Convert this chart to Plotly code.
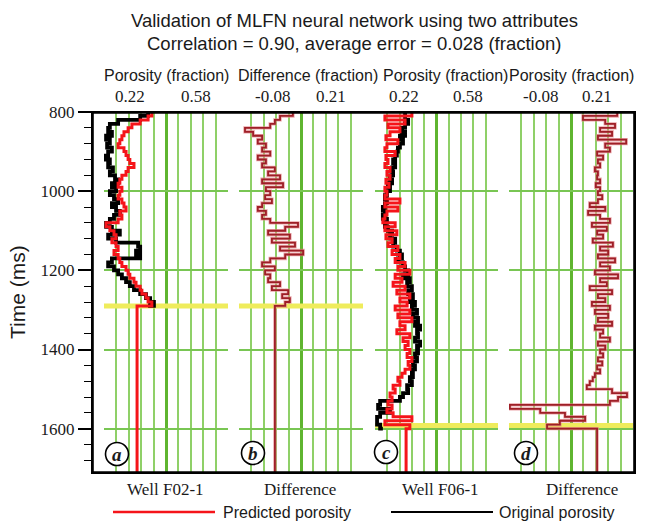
import numpy as np
import plotly.graph_objects as go

# ---------------------------------------------------------------- data
# two-way time samples (ms)
TIME_F02 = list(range(800, 1300, 10))      # 800 .. 1290
TIME_F06 = list(range(800, 1610, 10))      # 800 .. 1600
TIME_BOTTOM = 1712                          # bottom of the display window

# Well F02-1 porosity (fraction)
PHI_F02_ORIGINAL = [
    0.348, 0.325, 0.261, 0.237, 0.232, 0.243, 0.226, 0.237, 0.229, 0.243,
    0.232, 0.223, 0.237, 0.232, 0.246, 0.237, 0.252, 0.261, 0.243, 0.255,
    0.237, 0.249, 0.261, 0.243, 0.255, 0.266, 0.249, 0.237, 0.226, 0.243,
    0.266, 0.232, 0.255, 0.319, 0.325, 0.313, 0.325, 0.243, 0.232, 0.249,
    0.261, 0.272, 0.284, 0.295, 0.307, 0.325, 0.342, 0.354, 0.365, 0.348,
]
PHI_F02_PREDICTED = [
    0.359, 0.348, 0.325, 0.301, 0.290, 0.278, 0.272, 0.266, 0.261, 0.278,
    0.284, 0.290, 0.295, 0.307, 0.290, 0.284, 0.272, 0.266, 0.261, 0.272,
    0.266, 0.261, 0.272, 0.278, 0.284, 0.266, 0.272, 0.261, 0.226, 0.237,
    0.249, 0.255, 0.243, 0.255, 0.261, 0.249, 0.261, 0.266, 0.272, 0.284,
    0.290, 0.295, 0.307, 0.313, 0.325, 0.330, 0.342, 0.348, 0.359, 0.316,
    0.316,
]
DIFF_F02 = [
    0.046, 0.016, 0.004, -0.007, -0.066, -0.047, -0.026, -0.036, -0.017, -0.026,
    -0.007, -0.036, -0.017, -0.026, 0.004, -0.012, 0.016, -0.026, 0.023, -0.017,
    -0.007, -0.019, -0.003, -0.026, -0.036, -0.017, -0.026, -0.007, 0.058, 0.028,
    -0.012, 0.039, -0.003, 0.051, 0.016, 0.070, 0.028, -0.007, -0.026, 0.004,
    -0.019, -0.007, -0.012, 0.016, -0.003, 0.035, 0.021, 0.039, 0.028, 0.004,
    0.004,
]

# Well F06-1 porosity (fraction)
PHI_F06_ORIGINAL = [
    0.308, 0.308, 0.317, 0.308, 0.299, 0.308, 0.293, 0.302, 0.293, 0.287,
    0.284, 0.279, 0.273, 0.279, 0.270, 0.273, 0.264, 0.270, 0.258, 0.264,
    0.255, 0.249, 0.255, 0.249, 0.243, 0.249, 0.243, 0.255, 0.249, 0.258,
    0.270, 0.264, 0.279, 0.273, 0.284, 0.293, 0.299, 0.287, 0.302, 0.308,
    0.317, 0.302, 0.322, 0.314, 0.328, 0.317, 0.331, 0.322, 0.337, 0.328,
    0.343, 0.331, 0.346, 0.337, 0.352, 0.343, 0.346, 0.337, 0.352, 0.343,
    0.346, 0.337, 0.343, 0.331, 0.337, 0.328, 0.331, 0.322, 0.328, 0.314,
    0.317, 0.302, 0.293, 0.235, 0.229, 0.264, 0.235, 0.226, 0.226, 0.235,
    0.243,
]
PHI_F06_PREDICTED = [
    0.328, 0.249, 0.308, 0.258, 0.293, 0.264, 0.252, 0.287, 0.255, 0.249,
    0.279, 0.252, 0.258, 0.249, 0.264, 0.255, 0.264, 0.252, 0.261, 0.249,
    0.255, 0.249, 0.293, 0.249, 0.287, 0.255, 0.249, 0.243, 0.279, 0.249,
    0.284, 0.252, 0.270, 0.258, 0.287, 0.270, 0.293, 0.279, 0.308, 0.287,
    0.322, 0.279, 0.299, 0.273, 0.308, 0.284, 0.322, 0.293, 0.314, 0.279,
    0.322, 0.287, 0.328, 0.293, 0.308, 0.284, 0.322, 0.302, 0.317, 0.308,
    0.322, 0.314, 0.328, 0.317, 0.322, 0.308, 0.299, 0.287, 0.293, 0.273,
    0.279, 0.264, 0.270, 0.258, 0.270, 0.255, 0.273, 0.328, 0.249, 0.322,
    0.311,
    0.311,
]
DIFF_F06 = [
    0.173, 0.093, 0.145, 0.168, 0.133, 0.161, 0.128, 0.194, 0.145, 0.156,
    0.126, 0.140, 0.128, 0.133, 0.121, 0.128, 0.126, 0.133, 0.123, 0.133,
    0.128, 0.138, 0.128, 0.109, 0.145, 0.105, 0.133, 0.156, 0.114, 0.149,
    0.126, 0.140, 0.116, 0.163, 0.133, 0.152, 0.128, 0.168, 0.133, 0.156,
    0.121, 0.175, 0.133, 0.149, 0.109, 0.161, 0.128, 0.145, 0.114, 0.156,
    0.121, 0.152, 0.128, 0.161, 0.121, 0.140, 0.133, 0.156, 0.128, 0.145,
    0.133, 0.140, 0.128, 0.138, 0.126, 0.133, 0.121, 0.116, 0.109, 0.102,
    0.161, 0.196, 0.175, 0.156, -0.078, -0.007, 0.051, 0.098, 0.039, 0.009,
    0.126,
    0.126,
]

# end of the validation window in each well (ms)
WINDOW_END = [1290, 1290, 1592, 1592]

PHI_RANGE = (0.22, 0.58)
DIFF_RANGE = (-0.08, 0.21)
TRACK_RANGES = [PHI_RANGE, DIFF_RANGE, PHI_RANGE, DIFF_RANGE]

TITLE_LINES = ["Validation of MLFN neural network using two attributes",
               "Correlation = 0.90, average error = 0.028 (fraction)"]
TRACK_HEADERS = ["Porosity (fraction)", "Difference (fraction)",
                 "Porosity (fraction)", "Porosity (fraction)"]
SCALE_LABELS = [("0.22", "0.58"), ("-0.08", "0.21"),
                ("0.22", "0.58"), ("-0.08", "0.21")]
TRACK_FOOTERS = ["Well F02-1", "Difference", "Well F06-1", "Difference"]
PANEL_LETTERS = ["a", "b", "c", "d"]
LEGEND_LABELS = ["Predicted porosity", "Original porosity"]

# ---------------------------------------------------------------- styling
W, H = 646, 522
L, R, T, B = 92, 635, 112, 473          # plot frame in pixels
SANS = "Liberation Sans, Arial, sans-serif"
SERIF = "Liberation Serif, Times New Roman, serif"
TXT = "#1a1a1a"
RED = "#f5141a"
BLACK = "#000000"
DIFF_CORE = "#9e1f27"
DIFF_HALO = "rgba(226,130,135,0.7)"
GRID = "#8fd068"
GRID_MID = "#5fb530"
GRID_H = "#79c653"
YELLOW = "#efec5c"


def px(x):
    return (x - L) / (R - L)


def py(y):
    return (B - y) / (B - T)


TRACK_PX = [(104, 228), (239, 363), (375, 498), (509, 633)]
HEADER_X = [166, 308, 445, 571]
SCALE_X = [(130, 196), (272, 331), (404, 468), (540, 597)]
FOOTER_X = [165, 300, 440, 582]
LETTER_XY = [(117, 454), (253, 453), (386, 452), (526, 453)]

fig = go.Figure()


def add_curve(x, t, axis, color, width, shape="vh", yaxis="y"):
    fig.add_trace(go.Scatter(
        x=x, y=t, xaxis=axis, yaxis=yaxis, mode="lines",
        line=dict(color=color, width=width, shape=shape),
        showlegend=False, hoverinfo="skip"))


# end-of-window markers (drawn first, under the logs)
for i, t_end in enumerate(WINDOW_END):
    axis = "x" if i == 0 else f"x{i + 1}"
    lo, hi = TRACK_RANGES[i]
    add_curve([lo, hi], [t_end, t_end], axis, YELLOW, 5, shape="linear")

t02_tail = TIME_F02 + [TIME_BOTTOM]
t06_tail = TIME_F06 + [TIME_BOTTOM]

# track a: Well F02-1
add_curve(PHI_F02_ORIGINAL, TIME_F02, "x", BLACK, 3.8)
add_curve(PHI_F02_PREDICTED, t02_tail, "x", RED, 3.0)
# track b: difference F02-1
add_curve(DIFF_F02, t02_tail, "x2", DIFF_HALO, 3.4)
add_curve(DIFF_F02, t02_tail, "x2", DIFF_CORE, 1.8)
# track c: Well F06-1
add_curve(PHI_F06_ORIGINAL, TIME_F06, "x3", BLACK, 3.8)
add_curve(PHI_F06_PREDICTED, t06_tail, "x3", RED, 3.0)
# track d: difference F06-1
add_curve(DIFF_F06, t06_tail, "x4", DIFF_HALO, 3.4)
add_curve(DIFF_F06, t06_tail, "x4", DIFF_CORE, 1.8)

# black frame round all four tracks, on a full-width unit axis pair
add_curve([0, 1, 1, 0, 0], [0, 0, 1, 1, 0], "x5", BLACK, 3.6,
          shape="linear", yaxis="y2")

unit_axis = dict(domain=[0, 1], range=[0, 1], showline=False, showgrid=False,
                 zeroline=False, showticklabels=False, ticks="",
                 fixedrange=True)

layout = dict(
    width=W, height=H,
    margin=dict(l=L, r=W - R, t=T, b=H - B, pad=0),
    paper_bgcolor="white", plot_bgcolor="rgba(0,0,0,0)",
    showlegend=False,
    yaxis=dict(
        domain=[0, 1], range=[TIME_BOTTOM, 800], anchor="free", position=0,
        showline=True, linecolor="black", linewidth=2,
        ticks="outside", ticklen=13, tickwidth=1.5, tickcolor="black",
        tickmode="linear", tick0=800, dtick=200,
        tickfont=dict(family=SERIF, size=17, color=TXT),
        showgrid=True, gridcolor=GRID_H, gridwidth=2, zeroline=False,
        minor=dict(tickmode="linear", tick0=800, dtick=40, ticks="outside",
                   ticklen=7, tickwidth=1.2, tickcolor="black", showgrid=False),
        fixedrange=True,
    ),
    xaxis5=dict(unit_axis, anchor="y2"),
    yaxis2=dict(unit_axis, anchor="x5"),
)

for i, ((d0, d1), (lo, hi)) in enumerate(zip(TRACK_PX, TRACK_RANGES)):
    name = "xaxis" if i == 0 else f"xaxis{i + 1}"
    vals = np.linspace(lo, hi, 11)
    layout[name] = dict(
        domain=[px(d0), px(d1)], range=[lo, hi], anchor="y",
        showticklabels=False, ticks="", zeroline=False, showline=False,
        tickmode="array", tickvals=[vals[5]],
        showgrid=True, gridcolor=GRID_MID, gridwidth=3,
        minor=dict(tickmode="array", tickvals=list(vals), ticks="",
                   showgrid=True, gridcolor=GRID, gridwidth=2),
        fixedrange=True,
    )

fig.update_layout(**layout)

shapes = []
# circled panel letters
rad = 11.5
for cx, cy in LETTER_XY:
    shapes.append(dict(type="circle", xref="paper", yref="paper",
                       x0=px(cx - rad), x1=px(cx + rad),
                       y0=py(cy + rad), y1=py(cy - rad),
                       line=dict(color="black", width=1.6), fillcolor="white",
                       layer="above"))
# legend keys
LEG_Y = 512
shapes.append(dict(type="line", xref="paper", yref="paper",
                   x0=px(113), x1=px(215), y0=py(LEG_Y), y1=py(LEG_Y),
                   line=dict(color=RED, width=2.5)))
shapes.append(dict(type="line", xref="paper", yref="paper",
                   x0=px(391), x1=px(493), y0=py(LEG_Y), y1=py(LEG_Y),
                   line=dict(color=BLACK, width=2)))
# frame edges as thin filled bars (top, right, bottom, left)
for x0, y0, x1, y1 in [(L - 1, T - 1, R + 1, T + 1), (R - 1, T - 1, R + 1, B + 1),
                       (L - 1, B - 1, R + 1, B + 1), (L - 1, T - 1, L + 1, B + 1)]:
    shapes.append(dict(type="rect", xref="paper", yref="paper",
                       x0=px(x0), x1=px(x1), y0=py(y1), y1=py(y0),
                       line=dict(width=0), fillcolor="black", layer="above"))

ann = []


def text(s, x, y, family, size, xanchor="center", angle=0):
    ann.append(dict(text=s, x=px(x), y=py(y), xref="paper", yref="paper",
                    xanchor=xanchor, yanchor="middle", showarrow=False,
                    textangle=angle, font=dict(family=family, size=size, color=TXT)))


text(TITLE_LINES[0], 354, 20, SANS, 18.5)
text(TITLE_LINES[1], 354, 43, SANS, 18.5)
for i in range(4):
    text(TRACK_HEADERS[i], HEADER_X[i], 75, SANS, 16)
    text(SCALE_LABELS[i][0], SCALE_X[i][0], 96, SERIF, 17)
    text(SCALE_LABELS[i][1], SCALE_X[i][1], 96, SERIF, 17)
    text(TRACK_FOOTERS[i], FOOTER_X[i], 489, SERIF, 17)
    cx, cy = LETTER_XY[i]
    text(f"<b><i>{PANEL_LETTERS[i]}</i></b>", cx, cy, SERIF, 19)
text(LEGEND_LABELS[0], 221, LEG_Y, SANS, 16, xanchor="left")
text(LEGEND_LABELS[1], 497, LEG_Y, SANS, 16, xanchor="left")
text("Time (ms)", 17, 292, SANS, 21, angle=-90)

fig.update_layout(shapes=shapes, annotations=ann)
fig.write_html("out.html")
